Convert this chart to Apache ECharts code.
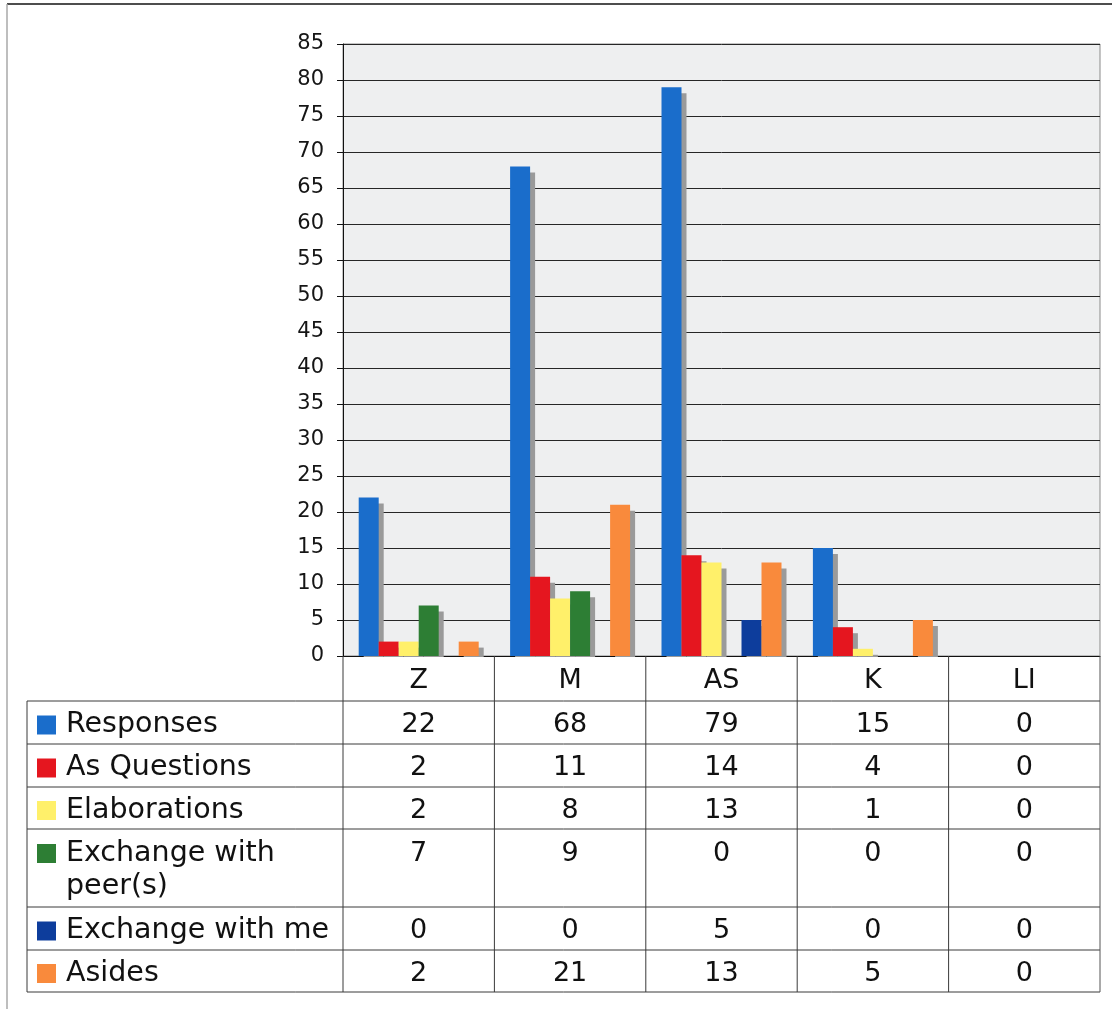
<!DOCTYPE html>
<html>
<head>
<meta charset="utf-8">
<title>Responses by student</title>
<script src="https://cdn.jsdelivr.net/npm/echarts@6/dist/echarts.min.js"></script>
<style>
  html, body { margin: 0; padding: 0; background: #ffffff; }
  #chart { width: 1112px; height: 1009px; }
</style>
</head>
<body>
<div id="chart"></div>
<script>
// Categories (students) along the x axis
const categories = ['Z', 'M', 'AS', 'K', 'LI'];

// Counts per category for each kind of contribution
const responses     = [22, 68, 79, 15, 0];
const asQuestions   = [2, 11, 14, 4, 0];
const elaborations  = [2, 8, 13, 1, 0];
const exchangePeers = [7, 9, 0, 0, 0];
const exchangeMe    = [0, 0, 5, 0, 0];
const asides        = [2, 21, 13, 5, 0];

// Series labels as they appear in the data table
const seriesNames = ['Responses', 'As Questions', 'Elaborations', 'Exchange with\npeer(s)', 'Exchange with me', 'Asides'];
const seriesColors = ['#1a6dcb', '#e5161f', '#fff06a', '#2d7e34', '#0d3d9c', '#f98a3c'];
const seriesData = [responses, asQuestions, elaborations, exchangePeers, exchangeMe, asides];

// Value axis range
const yMin = 0, yMax = 85, yStep = 5;

const FONT = 'DejaVu Sans';
const W = 1112, H = 1009;
const gridLeft = 343, gridRight = 1100, gridTop = 44, gridBottom = 656;

// Data table layout (row boundaries in px)
const tableLeft = 27;
const rowLines = [701, 744, 787, 829, 907, 950, 992];

const chart = echarts.init(document.getElementById('chart'), null, { renderer: 'canvas', width: W, height: H });

const series = seriesData.map((d, i) => ({
  name: seriesNames[i],
  type: 'bar',
  data: d,
  barWidth: 20,
  barGap: '0%',
  silent: true,
  itemStyle: {
    color: seriesColors[i],
    shadowColor: '#9a9a9a',
    shadowBlur: 0,
    shadowOffsetX: 5,
    shadowOffsetY: 6
  }
}));

chart.setOption({
  animation: false,
  backgroundColor: '#ffffff',
  grid: {
    left: gridLeft,
    right: W - gridRight,
    top: gridTop,
    bottom: H - gridBottom,
    show: true,
    backgroundColor: '#eeeff0',
    borderColor: '#8a8a8a',
    borderWidth: 1
  },
  xAxis: {
    type: 'category',
    data: categories,
    axisLine: { show: true, lineStyle: { color: '#111', width: 1 } },
    axisTick: { show: false },
    axisLabel: { show: false },
    splitLine: { show: false }
  },
  yAxis: {
    type: 'value',
    min: yMin,
    max: yMax,
    interval: yStep,
    axisLine: { show: true, lineStyle: { color: '#111', width: 1 } },
    axisTick: { show: true, length: 6, lineStyle: { color: '#111' } },
    axisLabel: { color: '#151515', fontFamily: FONT, fontSize: 21, margin: 19 },
    splitLine: { show: true, lineStyle: { color: '#262626', width: 1 } }
  },
  series: series
});

// Build the data table below the plot, aligned to the category axis
function line(x1, y1, x2, y2, color, width) {
  return { type: 'line', z: 110, silent: true,
    shape: { x1, y1, x2, y2 },
    style: { stroke: color || '#333', lineWidth: width || 1 } };
}

const graphics = [];
// outer frame
graphics.push(line(7, 4, W, 4, '#4d4d4d', 2));
graphics.push(line(7, 4, 7, H, '#a8a8a8', 1.5));
// white band under the axis (header row of the table)
graphics.push({ type: 'rect', z: 100, silent: true,
  shape: { x: gridLeft + 1, y: gridBottom + 1, width: gridRight - gridLeft + 10, height: rowLines[0] - gridBottom - 1 },
  style: { fill: '#ffffff' } });

// horizontal table lines
rowLines.forEach(y => graphics.push(line(tableLeft, y, gridRight, y, '#3a3a3a', 1)));
// vertical table lines
graphics.push(line(tableLeft, rowLines[0], tableLeft, rowLines[rowLines.length - 1], '#3a3a3a', 1));
const colW = (gridRight - gridLeft) / categories.length;
for (let k = 0; k <= categories.length; k++) {
  const x = gridLeft + k * colW;
  graphics.push(line(x, gridBottom, x, rowLines[rowLines.length - 1], k === categories.length ? '#555' : '#3a3a3a', 1));
}

// category header labels
categories.forEach((c, j) => {
  const cx = chart.convertToPixel({ xAxisIndex: 0 }, c);
  graphics.push({ type: 'text', z: 120, silent: true,
    style: { text: c, x: cx, y: (gridBottom + rowLines[0]) / 2 + 2, align: 'center', verticalAlign: 'middle',
      font: '27px "' + FONT + '"', fill: '#111' } });
});

// table rows: swatch, series label, values
seriesNames.forEach((name, i) => {
  const top = rowLines[i], bottom = rowLines[i + 1];
  const multi = name.indexOf('\n') >= 0;
  const cy = multi ? top + 24 : (top + bottom) / 2 + 2;
  graphics.push({ type: 'rect', z: 120, silent: true,
    shape: { x: 37, y: cy - 9, width: 19, height: 19 },
    style: { fill: seriesColors[i] } });
  graphics.push({ type: 'text', z: 120, silent: true,
    style: { text: name, x: 66, y: cy - 16, align: 'left', verticalAlign: 'top',
      font: '28.5px "' + FONT + '"', lineHeight: 33, fill: '#111' } });
  seriesData[i].forEach((v, j) => {
    const cx = chart.convertToPixel({ xAxisIndex: 0 }, categories[j]);
    graphics.push({ type: 'text', z: 120, silent: true,
      style: { text: String(v), x: cx, y: cy - 16, align: 'center', verticalAlign: 'top',
        font: '27px "' + FONT + '"', lineHeight: 33, fill: '#111' } });
  });
});

chart.setOption({ graphic: { elements: graphics } });
</script>
</body>
</html>
